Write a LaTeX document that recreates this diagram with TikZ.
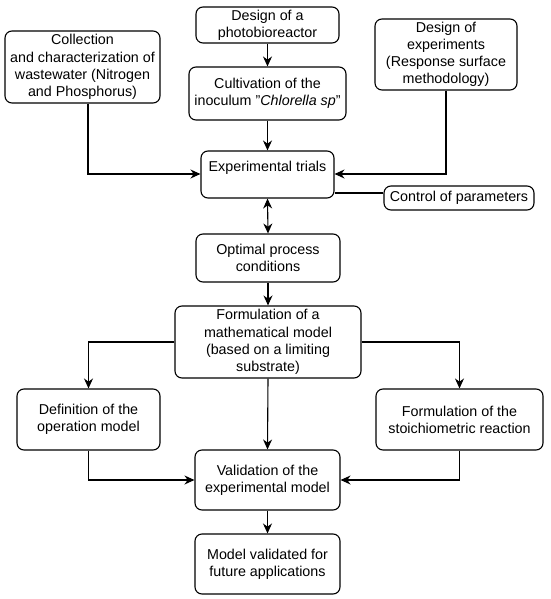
\documentclass[tikz,border=0pt]{standalone}
\usepackage{fontspec}
\setmainfont{Liberation Sans}
\usetikzlibrary{arrows.meta,calc}
\begin{document}
\begin{tikzpicture}[x=1pt,y=-1pt,
  box/.style={draw, line width=1.1pt, rounded corners=7pt, align=center, inner sep=1pt,
    font=\fontsize{14.3}{17.2}\selectfont},
  conn/.style={line width=1.1pt},
  arr/.style={conn, -{Stealth[length=10pt,width=9pt]}},
  darr/.style={conn, {Stealth[length=10pt,width=9pt]}-{Stealth[length=10pt,width=9pt]}}]
\useasboundingbox (0,0) rectangle (550,599);
\node[box, minimum width=143pt, minimum height=36pt] (photo) at (267.5,25) {Design of a\\photobioreactor};
\node[box, minimum width=155pt, minimum height=72pt] (coll) at (82.5,67) {Collection\\and characterization of\\wastewater (Nitrogen\\and Phosphorus)};
\node[box, minimum width=142pt, minimum height=71pt] (doe) at (446,54.5) {Design of\\experiments\\(Response surface\\methodology)};
\node[box, minimum width=157pt, minimum height=53pt] (cult) at (267.5,93.5) {Cultivation of the\\inoculum "\textit{Chlorella sp}"};
\node[box, minimum width=133pt, minimum height=47pt] (trials) at (267.5,174.5) {Experimental trials\\\mbox{}};
\node[box, minimum width=150pt, minimum height=24pt] (ctrl) at (459,198) {Control of parameters};
\node[box, minimum width=144pt, minimum height=48pt] (opt) at (268,258) {Optimal process\\conditions};
\node[box, minimum width=186pt, minimum height=72pt] (math) at (268,342) {Formulation of a\\mathematical model\\(based on a limiting\\substrate)};
\node[box, minimum width=143pt, minimum height=61pt] (defn) at (88.5,419.5) {Definition of the\\operation model};
\node[box, minimum width=167pt, minimum height=61pt] (stoich) at (459.5,419.5) {Formulation of the\\stoichiometric reaction};
\node[box, minimum width=145pt, minimum height=60pt] (valid) at (267.5,480) {Validation of the\\experimental model};
\node[box, minimum width=145pt, minimum height=60pt] (final) at (267.5,564) {Model validated for\\future applications};
\coordinate (tin) at (267.5,174);
\draw[arr] (photo.south) -- (cult.north);
\draw[arr] (cult.south) -- (trials.north);
\draw[arr] (coll.south -| 88,0) |- (trials.west |- tin);
\draw[arr] (doe.south) |- (trials.east |- tin);
\draw[conn] (trials.east |- 0,193) -- (ctrl.west |- 0,193);
\draw[darr] (trials.south) -- (opt.north);
\draw[arr] (opt.south) -- (math.north);
\draw[arr] (math.west) -| (defn.north);
\draw[arr] (math.east) -| (stoich.north);
\draw[arr] (math.south) -- (valid.north);
\draw[arr] (defn.south) |- (valid.west);
\draw[arr] (stoich.south) |- (valid.east);
\draw[arr] (valid.south) -- (final.north);
\end{tikzpicture}
\end{document}
